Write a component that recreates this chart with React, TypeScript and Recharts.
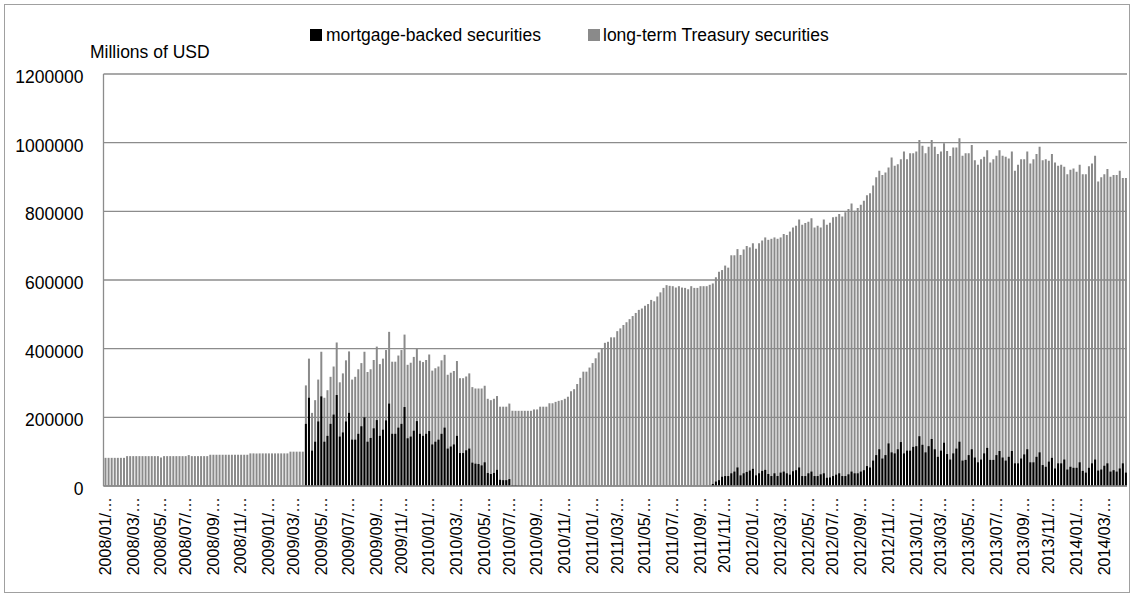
import { BarChart, Bar, XAxis, YAxis, CartesianGrid } from 'recharts';

// weekly values, millions of USD (2008/01 .. 2014/05)
const mortgageBacked = [
  0, 0, 0, 0, 0, 0, 0, 0, 0, 0, 0, 0, 0,
  0, 0, 0, 0, 0, 0, 0, 0, 0, 0, 0, 0, 0,
  0, 0, 0, 0, 0, 0, 0, 0, 0, 0, 0, 0, 0,
  0, 0, 0, 0, 0, 0, 0, 0, 0, 0, 0, 0, 0,
  0, 0, 0, 0, 0, 0, 0, 0, 0, 0, 0, 0, 0,
  181000, 257000, 103000, 129000, 188000, 261000, 129000, 146000, 181000, 208000,
  265000, 144000, 156000, 188000, 213000, 135000, 135000, 152000, 174000, 200000,
  129000, 140000, 168000, 192000, 146000, 164000, 191000, 240000, 152000, 152000,
  170000, 181000, 230000, 139000, 144000, 161000, 189000, 152000, 146000, 152000,
  160000, 121000, 129000, 135000, 152000, 170000, 109000, 115000, 121000, 146000,
  96000, 96000, 104000, 109000,
  68000, 65000, 64000, 60000, 69000,
  38000, 35000, 38000, 47000,
  18000, 17000, 17000,
  20000, 3000, 3000, 2000, 2000, 1000, 1000, 0, 0, 0, 0, 0,
  0, 0, 0, 0, 0, 0, 0, 0, 0, 0, 0, 0,
  0, 0, 0, 0, 0, 0, 0, 0, 0,
  0, 0, 0, 0, 0, 0, 0, 0, 0, 0, 0, 0, 0, 0, 0, 0, 0,
  0, 0, 0, 0, 0, 0, 0, 0, 0, 0, 0, 0, 0, 0, 0, 0,
  6000, 13000, 17000, 27000, 29000, 29000, 37000, 42000, 54000, 31000, 37000,
  41000, 45000, 50000, 31000, 37000, 44000, 47000, 35000, 29000, 37000,
  29000, 39000, 42000, 37000, 33000, 43000, 46000, 54000, 29000, 29000, 37000, 42000, 29000,
  29000, 34000, 37000, 24000, 25000, 29000, 33000, 37000, 29000, 29000, 34000, 42000,
  37000, 37000, 42000, 46000, 58000, 54000, 74000, 90000, 107000, 80000, 90000, 124000,
  98000, 95000, 107000, 128000, 95000, 103000, 103000, 114000, 116000, 145000, 120000, 98000,
  116000, 137000, 107000, 85000, 103000, 126000,
  93000, 77000,
  95000, 109000, 129000, 74000,
  76000, 90000, 107000, 83000, 69000, 77000, 95000, 111000, 76000, 76000, 90000, 102000,
  83000, 74000, 85000, 102000, 66000, 66000, 80000, 92000, 107000, 69000, 69000, 85000, 98000,
  61000, 56000, 71000, 82000, 51000, 66000, 66000, 77000, 48000, 56000, 53000, 53000,
  69000, 44000, 39000, 53000, 66000, 77000, 45000, 48000, 59000, 66000, 42000, 46000, 42000,
  51000, 66000, 39000,
];

const longTermTreasury = [
  82000, 82000, 82000, 82000, 82000, 82000, 82000, 87000, 87000,
  87000, 87000, 87000, 87000, 87000, 87000, 87000, 87000, 87000,
  83000, 87000,
  87000, 87000, 87000, 87000, 87000, 87000, 87000,
  90000,
  87000, 87000, 87000, 87000, 87000, 87000,
  91000, 91000, 91000, 91000, 91000, 91000, 91000, 91000, 91000, 91000, 91000, 91000, 91000,
  95000, 95000, 95000, 95000, 95000, 95000, 95000, 95000, 95000, 95000, 95000, 95000, 95000,
  100000, 100000, 100000, 100000, 100000,
  293000, 371000, 213000, 250000, 310000, 391000, 257000, 279000, 318000, 348000,
  418000, 302000, 328000, 366000, 392000, 310000, 318000, 340000, 358000, 391000,
  332000, 340000, 367000, 406000, 355000, 371000, 396000, 449000, 362000, 362000,
  380000, 396000, 441000, 353000, 359000, 376000, 399000, 365000, 361000, 367000,
  383000, 336000, 343000, 348000, 366000, 382000, 324000, 330000, 335000, 364000,
  314000, 314000, 319000, 328000,
  288000, 284000, 284000, 284000, 292000,
  254000, 250000, 254000, 262000,
  231000, 231000, 231000,
  240000, 219000, 219000, 219000, 219000, 219000, 219000, 219000, 223000, 223000, 231000, 231000,
  231000, 241000, 241000, 245000, 248000, 250000, 254000, 260000, 276000, 282000, 297000, 315000,
  333000, 333000, 345000, 358000, 372000, 389000, 402000, 417000, 420000,
  433000, 433000, 451000, 459000, 469000, 477000, 486000, 495000, 504000, 513000,
  517000, 525000, 530000, 542000, 538000, 552000, 564000, 577000, 585000, 583000,
  582000, 578000, 582000, 578000, 577000, 573000, 582000, 577000,
  577000, 582000, 582000, 582000, 586000, 590000, 608000, 624000, 629000, 642000,
  636000, 672000, 672000, 690000, 673000, 689000, 699000, 695000, 707000, 691000,
  707000, 715000, 724000, 717000, 720000, 724000,
  720000, 724000, 734000, 731000, 741000, 753000, 758000, 776000, 761000, 766000, 770000, 780000, 753000,
  758000, 753000, 776000, 761000, 767000, 783000, 784000, 792000, 785000, 797000, 807000, 823000,
  802000, 810000, 819000, 831000, 847000, 853000, 875000, 899000, 918000, 906000, 913000, 928000,
  957000, 933000, 937000, 952000, 974000, 952000, 969000, 969000, 974000, 1008000, 991000, 969000,
  988000, 1008000, 988000, 967000, 974000, 998000,
  976000, 961000,
  986000, 986000, 1013000, 962000,
  969000, 969000, 993000, 949000, 936000, 952000, 959000, 978000, 942000, 952000, 962000, 978000,
  962000, 959000, 954000, 974000, 918000, 936000, 952000, 952000, 974000, 939000, 952000, 967000, 988000,
  949000, 952000, 947000, 967000, 942000, 933000, 936000, 930000, 908000, 921000, 925000, 915000,
  936000, 908000, 908000, 931000, 939000, 962000, 887000, 899000, 908000, 923000, 901000, 906000, 906000,
  918000, 897000, 897000,
];

const yTicks = [0, 200000, 400000, 600000, 800000, 1000000, 1200000];

const tickLabels = [
  '2008/01/…', '2008/03/…', '2008/05/…', '2008/07/…', '2008/09/…', '2008/11/…',
  '2009/01/…', '2009/03/…', '2009/05/…', '2009/07/…', '2009/09/…', '2009/11/…',
  '2010/01/…', '2010/03/…', '2010/05/…', '2010/07/…', '2010/09/…', '2010/11/…',
  '2011/01/…', '2011/03/…', '2011/05/…', '2011/07/…', '2011/09/…', '2011/11/…',
  '2012/01/…', '2012/03/…', '2012/05/…', '2012/07/…', '2012/09/…', '2012/11/…',
  '2013/01/…', '2013/03/…', '2013/05/…', '2013/07/…', '2013/09/…', '2013/11/…',
  '2014/01/…', '2014/03/…',
];

// one category per week, starting Wed 2008/01/02
const pad = (n: number) => String(n).padStart(2, '0');
const weeks = mortgageBacked.map((_, i) => {
  const d = new Date(Date.UTC(2008, 0, 2 + 7 * i));
  return `${d.getUTCFullYear()}/${pad(d.getUTCMonth() + 1)}/${pad(d.getUTCDate())}`;
});

const data = weeks.map((week, i) => ({
  week,
  mbs: mortgageBacked[i],
  treasury: longTermTreasury[i],
}));

// labels sit every two months on the date axis (~8.75 weeks apart)
const tickWeeks = tickLabels.map((_, k) => weeks[Math.round(0.25 + 8.745 * k)]);
const labelOf = new Map(tickWeeks.map((w, k) => [w, tickLabels[k]]));

const FONT = '"Liberation Sans", Arial, sans-serif';
const LINE = '#8c8c8c';

function DateTick({ x, y, payload }: any) {
  return (
    <text
      x={x}
      y={y}
      dy="0.36em"
      transform={`rotate(-90 ${x} ${y})`}
      textAnchor="end"
      fontSize={16}
      fontFamily={FONT}
      fill="#000"
    >
      {labelOf.get(payload.value)}
    </text>
  );
}

function ValueTick({ x, y, payload }: any) {
  return (
    <text x={x} y={y} dy={9} textAnchor="end" fontSize={17.5} fontFamily={FONT} fill="#000">
      {payload.value}
    </text>
  );
}

export default function App() {
  return (
    <div style={{ position: 'fixed', left: 0, top: 0, width: 1132, height: 597, background: '#fff' }}>
      <BarChart
        width={1132}
        height={597}
        data={data}
        margin={{ top: 74, right: 5, bottom: 11, left: 0 }}
        barGap={-2}
      >
        <CartesianGrid vertical={false} stroke={LINE} strokeWidth={1.3} />
        <XAxis
          dataKey="week"
          ticks={tickWeeks}
          interval={0}
          height={100}
          tick={<DateTick />}
          tickLine={false}
          tickSize={0}
          tickMargin={11}
          axisLine={{ stroke: LINE, strokeWidth: 1.3 }}
        />
        <YAxis
          width={103.5}
          domain={[0, 1200000]}
          ticks={yTicks}
          tick={<ValueTick />}
          tickLine={false}
          tickSize={0}
          tickMargin={20}
          axisLine={{ stroke: LINE, strokeWidth: 1.3 }}
        />
        <Bar dataKey="treasury" name="long-term Treasury securities" fill="#8a8a8a" barSize={2} isAnimationActive={false} />
        <Bar dataKey="mbs" name="mortgage-backed securities" fill="#000" barSize={2} isAnimationActive={false} />
      </BarChart>
      <svg
        width={1132}
        height={597}
        style={{ position: 'absolute', left: 0, top: 0, pointerEvents: 'none' }}
        fontFamily={FONT}
      >
        <rect x={4.5} y={4.5} width={1125} height={588} fill="none" stroke="#a0a0a0" />
        <text x={90} y={58} fontSize={17.5} fill="#000">Millions of USD</text>
        <rect x={310} y={29} width={12} height={12} fill="#000" />
        <text x={326} y={41} fontSize={17.5} fill="#000">mortgage-backed securities</text>
        <rect x={588} y={29} width={12} height={12} fill="#8a8a8a" />
        <text x={603} y={41} fontSize={17.5} fill="#000">long-term Treasury securities</text>
      </svg>
    </div>
  );
}
